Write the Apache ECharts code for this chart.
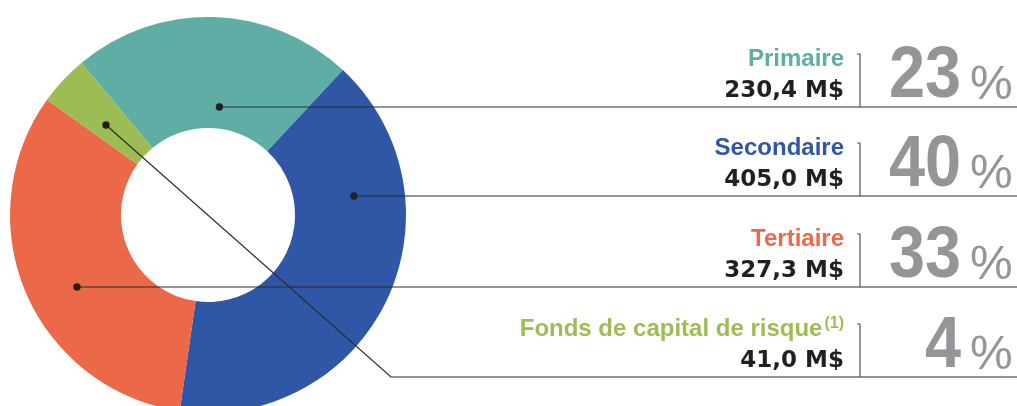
<!DOCTYPE html>
<html>
<head>
<meta charset="utf-8">
<script src="https://cdn.jsdelivr.net/npm/echarts@6/dist/echarts.min.js"></script>
<style>
  html, body { margin: 0; padding: 0; background: #fff; }
  #main { width: 1017px; height: 406px; }
</style>
</head>
<body>
<div id="main"></div>
<script>
// data
var categories = ['Primaire', 'Secondaire', 'Tertiaire', 'Fonds de capital de risque'];
var amounts = [230.4, 405.0, 327.3, 41.0];          // M$
var amountLabels = ['230,4 M$', '405,0 M$', '327,3 M$', '41,0 M$'];
var percentLabels = ['23', '40', '33', '4'];
var colors = ['#5eaea6', '#2f57a5', '#eb6848', '#9cbd54'];

var chart = echarts.init(document.getElementById('main'));

// géométrie du donut
var cx = 208, cy = 215, r0 = 87, r1 = 198;
var rowY = [107, 196, 287, 377];   // lignes horizontales des étiquettes
var textRight = 844, sepX = 860;
var ink = '#231f20', grey = '#939598';

var pieData = categories.map(function (c, i) {
	return { name: c, value: amounts[i], itemStyle: { color: colors[i] } };
});

var graphics = [];

// points d'ancrage des traits de rappel (rayon dans la tranche)
var anchorR = [108.6, 147.2, 149.5];
var pts = [];
for (var i = 0; i < 3; i++) {
	var dy = rowY[i] - cy;
	var dx = Math.sqrt(anchorR[i] * anchorR[i] - dy * dy);
	var sx = (i == 2) ? -1 : 1;
	pts.push([cx + sx * dx, rowY[i]]);
}
// tranche capital de risque : trait en diagonale
var ga = 311.4 * Math.PI / 180;
pts.push([cx + 136 * Math.sin(ga), cy - 136 * Math.cos(ga)]);

for (var i = 0; i < 4; i++) {
	var p = pts[i];
	var line = (i < 3) ? [[p[0], p[1]], [1017, rowY[i]]] : [[p[0], p[1]], [391, rowY[i]], [1017, rowY[i]]];
	graphics.push({
		type: 'polyline', silent: true, z: 10,
		shape: { points: line },
		style: { stroke: '#2b2b2b', lineWidth: 1.2, fill: null }
	});
	graphics.push({
		type: 'circle', silent: true, z: 11,
		shape: { cx: p[0], cy: p[1], r: 3.7 },
		style: { fill: ink }
	});
	// séparateur vertical
	var tickTop = rowY[i] - 53;
	graphics.push({
		type: 'polyline', silent: true, z: 10,
		shape: { points: [[sepX - 3, tickTop], [sepX, tickTop], [sepX, rowY[i]]] },
		style: { stroke: '#555', lineWidth: 1.2, fill: null }
	});
	// nom de la catégorie
	var titleStyle = {
		x: textRight, y: rowY[i] - 48,
		align: 'right', verticalAlign: 'middle',
		text: categories[i],
		fill: colors[i],
		font: 'bold 24px "Liberation Sans", Arial, sans-serif'
	};
	if (i == 3) {
		titleStyle.text = '{t|' + categories[i] + '}{s|(1)}';
		titleStyle.rich = {
			t: { fontSize: 24, fontWeight: 'bold', fontFamily: 'Liberation Sans', color: colors[3] },
			s: { fontSize: 16, fontWeight: 'bold', fontFamily: 'Liberation Sans', color: colors[3], verticalAlign: 'top', padding: [0, 0, 10, 2] }
		};
	}
	graphics.push({ type: 'text', silent: true, z: 12, style: titleStyle });
	// montant
	graphics.push({
		type: 'text', silent: true, z: 12,
		style: {
			x: textRight, y: rowY[i] - 16,
			align: 'right', verticalAlign: 'middle',
			text: amountLabels[i], fill: ink,
			font: 'bold 23px "DejaVu Sans", sans-serif'
		}
	});
	// pourcentage
	graphics.push({
		type: 'text', silent: true, z: 12,
		x: 961, y: rowY[i] - 30, scaleX: 0.9,
		style: {
			x: 0, y: 0,
			align: 'right', verticalAlign: 'middle',
			text: percentLabels[i], fill: grey,
			font: 'bold 72px "Liberation Sans", Arial, sans-serif'
		}
	});
	graphics.push({
		type: 'text', silent: true, z: 12,
		style: {
			x: 970, y: rowY[i] - 21,
			align: 'left', verticalAlign: 'middle',
			text: '%', fill: grey,
			font: '48px "Liberation Sans", Arial, sans-serif'
		}
	});
}

var option = {
	animation: false,
	backgroundColor: '#fff',
	series: [{
		type: 'pie',
		silent: true,
		center: [cx, cy],
		radius: [r0, r1],
		startAngle: 90 + 39.7,
		clockwise: true,
		label: { show: false },
		labelLine: { show: false },
		itemStyle: { borderWidth: 0 },
		data: pieData
	}],
	graphic: graphics
};

chart.setOption(option);
</script>
</body>
</html>
